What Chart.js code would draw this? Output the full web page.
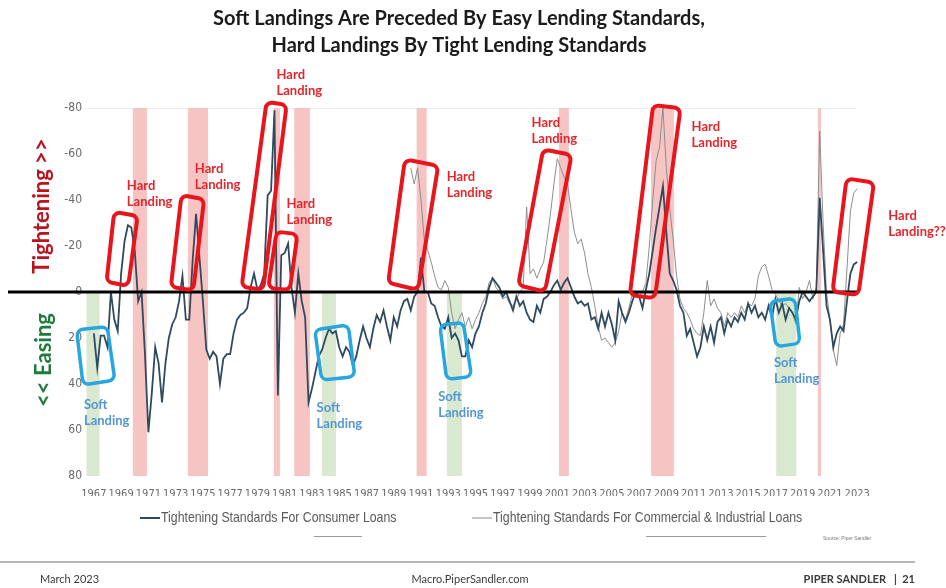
<!DOCTYPE html>
<html>
<head>
<meta charset="utf-8">
<script src="https://cdn.jsdelivr.net/npm/chart.js@4.4.0/dist/chart.umd.min.js"></script>
<style>
  html, body { margin: 0; padding: 0; background: #fff; }
  #wrap { width: 946px; height: 588px; position: relative; }
</style>
</head>
<body>
<div id="wrap"><canvas id="lendingChart" width="946" height="588"></canvas></div>
<script>
// Net % of banks tightening standards, quarterly (negative = tightening, axis is flipped)
const consumerStart = 1967;      // 1967 Q1
const consumerLoans = [
  18, 33, 19, 19,     24, 0, 12, 17,      -8, -22, -29, -28,   -18, 4, 0, 27,
  61, 44, 24, 31,     48, 31, 20, 14,     11, 4, -7, 12,       12, -14, -34, -15,
  4, 25, 29, 26,      28, 40, 29, 27,     27, 18, 12, 10,      9, 7, -2, -8,
  -1, -3, -8, -42,    -44, -79, 45, -16,  -17, -21, -2, 9,     -8, 4, 11, 48,
  42, 35, 28, 25,     20, 16, 18, 17,     24, 28, 24, 26,      32, 28, 21, 15,
  20, 24, 16, 10,     13, 8, 15, 21,      11, 15, 8, 4,        3, 8, 2, 0,
  -15, 0, 0, 5,       6, 11, 15, 16,      11, 20, 18, 21,      28, 28, 21, 24,
  18, 15, 9, 5,       -2, -6, -4, -2,     2, 0, 4, 8,          2, 6, 4, 9,
  12, 13, 6, 9,       3, 2, 0, -3,        -5, -1, -4, -6,      -2, 2, 5, 4,
  6, 5, 12, 11,       16, 9, 15, 9,       14, 21, 4, 9,        13, 9, 4, 0,
  2, 7, -1, -8,       -18, -28, -37, -46, -26, -8, -5, -1,     6, 9, 19, 16,
  22, 28, 24, 15,     21, 15, 22, 13,     11, 18, 12, 15,      11, 13, 9, 12,
  5, 9, 6, 11,        9, 12, 6, 11,       3, 9, 5, 12,         7, 9, 12, 4,
  0, 2, 4, 2,         0, -41, -18, 6,     12, 24, 18, 15,      17, 4, -8, -12,
  -13
];

const ciStart = 1990.25;         // 1990 Q2
const ciLoans = [
  -54, -47, -54,
  -40, -22, -18, -13,  -7, -2, -1, -5,     -2, 9, 16, 12,       9, 15, 11, 16,
  12, 9, 5, 2,         -4, -6, -2, 0,      3, 2, 5, 6,          3, 0, -2, -37,
  -8, -10, -6, -10,    -13, -23, -34, -47, -58, -54, -50, -47,  -36, -26, -21, -23,
  -17, -8, -2, 6,      15, 21, 20, 22,     24, 22, 17, 9,       12, 7, 1, 0,
  2, 0, -4, -20,       -40, -57, -63, -80, -54, -36, -23, -7,   3, 7, 9, 12,
  16, 18, 19, 9,       -5, 6, 3, 7,        9, 15, 9, 11,        9, 11, 6, 9,
  5, 6, 3, -7,         -11, -12, -7, -1,   1, 4, 6, 5,          7, 9, 14, -2,
  3, 0, -5, 3,         -2, -70, -30, 0,    12, 25, 32, 18,      14, -10, -35, -43,
  -45
];

const yearTicks = [1967, 1969, 1971, 1973, 1975, 1977, 1979, 1981, 1983, 1985, 1987, 1989,
  1991, 1993, 1995, 1997, 1999, 2001, 2003, 2005, 2007, 2009, 2011, 2013, 2015, 2017,
  2019, 2021, 2023];
const valueTicks = [-80, -60, -40, -20, 0, 20, 40, 60, 80];

// recessions (red) and soft-landing windows (green), in decimal years
const recessions = [[1969.86, 1970.89], [1973.9, 1975.38], [1980.2, 1980.65], [1981.7, 1982.85],
  [1990.68, 1991.42], [2001.12, 2001.85], [2007.88, 2009.55], [2020.12, 2020.34]];
const softPeriods = [[1966.46, 1967.42], [1983.73, 1984.76], [1992.9, 1994.0], [2017.06, 2018.53]];

// callout boxes: four corners as [year, value]
const hardBoxes = [
  [[1968.49, -34.9], [1970.21, -33.0], [1969.52, -2.6], [1967.93, -4.5]],
  [[1973.43, -42.2], [1975.09, -40.3], [1974.29, -0.6], [1972.65, -2.3]],
  [[1979.67, -82.7], [1981.14, -81.3], [1979.42, -0.9], [1977.84, -2.3]],
  [[1980.40, -26.2], [1981.94, -25.2], [1981.38, -0.9], [1979.79, -1.6]],
  [[1989.82, -57.7], [1992.26, -54.8], [1990.79, -0.9], [1988.59, -4.0]],
  [[1999.96, -62.0], [2002.05, -59.6], [2000.09, -0.1], [1998.13, -3.0]],
  [[2008.03, -81.3], [2010.04, -79.9], [2008.16, 2.7], [2006.32, 1.3]],
  [[2022.22, -49.4], [2024.23, -47.5], [2023.08, 1.3], [2021.19, -0.1]]
];
const softBoxes = [
  [[1965.73, 16.5], [1967.98, 15.1], [1968.54, 38.3], [1966.21, 40.4]],
  [[1983.21, 16.5], [1985.66, 14.3], [1986.15, 36.8], [1983.71, 38.3]],
  [[1992.38, 14.3], [1994.10, 13.3], [1994.71, 36.8], [1992.88, 38.0]],
  [[2016.60, 4.2], [2018.43, 2.7], [2018.80, 22.3], [2017.04, 23.8]]
];

// callout text: [year, value, lines]
const hardNotes = [
  [1969.42, -46.1, ['Hard', 'Landing']],
  [1974.41, -53.5, ['Hard', 'Landing']],
  [1980.40, -94.3, ['Hard', 'Landing']],
  [1981.14, -38.3, ['Hard', 'Landing']],
  [1992.88, -50.0, ['Hard', 'Landing']],
  [1999.11, -73.5, ['Hard', 'Landing']],
  [2010.85, -71.7, ['Hard', 'Landing']],
  [2025.28, -33.0, ['Hard', 'Landing??']]
];
const softNotes = [
  [1966.27, 49.1, ['Soft', 'Landing']],
  [1983.34, 50.4, ['Soft', 'Landing']],
  [1992.26, 45.7, ['Soft', 'Landing']],
  [2016.89, 30.9, ['Soft', 'Landing']]
];

const NARROW = "'Liberation Sans Narrow', 'Arial Narrow', 'DejaVu Sans Condensed', sans-serif";
const BODY = "Lato, 'Open Sans', sans-serif";

function roundedPoly(ctx, pts, r) {
  const n = pts.length;
  ctx.beginPath();
  ctx.moveTo((pts[n - 1].x + pts[0].x) / 2, (pts[n - 1].y + pts[0].y) / 2);
  for (let i = 0; i < n; i++) {
    const p = pts[i], q = pts[(i + 1) % n];
    ctx.arcTo(p.x, p.y, q.x, q.y, r);
  }
  ctx.closePath();
}

// Arial-style text squeezed sideways, like Arial Narrow
function narrowText(ctx, text, x, y) {
  ctx.save();
  ctx.translate(x, y);
  ctx.scale(0.82, 1);
  ctx.fillText(text, 0, 0);
  ctx.restore();
}

const overlay = {
  id: 'overlay',
  beforeDatasetsDraw(chart) {
    const { ctx, chartArea: a, scales: { x, y } } = chart;
    ctx.save();
    // faint top rule
    ctx.strokeStyle = '#ececec';
    ctx.lineWidth = 1;
    ctx.beginPath();
    ctx.moveTo(a.left, a.top + 0.5);
    ctx.lineTo(x.getPixelForValue(2022.9), a.top + 0.5);
    ctx.stroke();

    ctx.fillStyle = '#f7c4c4';
    recessions.forEach(([s, e]) => {
      const x0 = x.getPixelForValue(s), x1 = x.getPixelForValue(e);
      ctx.fillRect(x0, y.getPixelForValue(-80), x1 - x0, y.getPixelForValue(80) - y.getPixelForValue(-80));
    });
    ctx.fillStyle = '#d8e9d0';
    softPeriods.forEach(([s, e]) => {
      const x0 = x.getPixelForValue(s), x1 = x.getPixelForValue(e);
      ctx.fillRect(x0, y.getPixelForValue(0), x1 - x0, y.getPixelForValue(80) - y.getPixelForValue(0));
    });
    ctx.restore();
  },
  afterDatasetsDraw(chart) {
    const { ctx, scales: { x, y } } = chart;
    const toPx = ([yr, v]) => ({ x: x.getPixelForValue(yr), y: y.getPixelForValue(v) });
    ctx.save();

    // zero line
    ctx.strokeStyle = '#000';
    ctx.lineWidth = 3;
    ctx.beginPath();
    ctx.moveTo(8, y.getPixelForValue(0));
    ctx.lineTo(x.getPixelForValue(2023), y.getPixelForValue(0));
    ctx.stroke();

    ctx.lineJoin = 'round';
    ctx.strokeStyle = '#e8161c';
    ctx.lineWidth = 4;
    hardBoxes.forEach(b => { roundedPoly(ctx, b.map(toPx), 6); ctx.stroke(); });
    ctx.strokeStyle = '#27a6e0';
    ctx.lineWidth = 3.5;
    softBoxes.forEach(b => { roundedPoly(ctx, b.map(toPx), 6); ctx.stroke(); });

    ctx.textAlign = 'left';
    ctx.textBaseline = 'middle';
    ctx.font = `bold 13px ${BODY}`;
    ctx.fillStyle = '#e3262b';
    hardNotes.forEach(([yr, v, lines]) => {
      const p = toPx([yr, v]);
      lines.forEach((t, i) => ctx.fillText(t, p.x, p.y + i * 16));
    });
    ctx.fillStyle = '#5496d3';
    softNotes.forEach(([yr, v, lines]) => {
      const p = toPx([yr, v]);
      lines.forEach((t, i) => ctx.fillText(t, p.x, p.y + i * 16));
    });
    ctx.restore();
  },
  afterDraw(chart) {
    const { ctx } = chart;
    ctx.save();

    // title
    ctx.fillStyle = '#1b1b1b';
    ctx.textAlign = 'center';
    ctx.textBaseline = 'middle';
    ctx.font = `bold 20px ${BODY}`;
    ctx.fillText('Soft Landings Are Preceded By Easy Lending Standards,', 459, 19);
    ctx.fillText('Hard Landings By Tight Lending Standards', 459, 46);

    // side labels
    ctx.font = `bold 22px ${BODY}`;
    ctx.textBaseline = 'alphabetic';
    ctx.save();
    ctx.translate(49, 206);
    ctx.rotate(-Math.PI / 2);
    ctx.fillStyle = '#b8141d';
    ctx.fillText('Tightening >>', 0, 0);
    ctx.restore();
    ctx.save();
    ctx.translate(51, 360);
    ctx.rotate(-Math.PI / 2);
    ctx.fillStyle = '#1f7a3c';
    ctx.fillText('<< Easing', 0, 0);
    ctx.restore();

    // legend
    ctx.textAlign = 'left';
    ctx.textBaseline = 'middle';
    ctx.font = "15px 'Liberation Sans', Arial, sans-serif";
    ctx.fillStyle = '#595959';
    ctx.strokeStyle = '#2e4a5e';
    ctx.lineWidth = 2;
    ctx.beginPath(); ctx.moveTo(140, 518); ctx.lineTo(160, 518); ctx.stroke();
    narrowText(ctx, 'Tightening Standards For Consumer Loans', 161, 518);
    ctx.strokeStyle = '#8e8e8e';
    ctx.lineWidth = 1;
    ctx.beginPath(); ctx.moveTo(472, 518); ctx.lineTo(492, 518); ctx.stroke();
    narrowText(ctx, 'Tightening Standards For Commercial & Industrial Loans', 493, 518);
    ctx.strokeStyle = '#9a9a9a';
    ctx.beginPath(); ctx.moveTo(314, 536.5); ctx.lineTo(362, 536.5); ctx.stroke();
    ctx.beginPath(); ctx.moveTo(646, 536.5); ctx.lineTo(766, 536.5); ctx.stroke();

    ctx.font = "6px 'Liberation Sans', Arial, sans-serif";
    ctx.fillStyle = '#777';
    narrowText(ctx, 'Source: Piper Sandler', 823, 538);

    // footer
    ctx.strokeStyle = '#a0a0a0';
    ctx.lineWidth = 1.5;
    ctx.beginPath(); ctx.moveTo(0, 562); ctx.lineTo(915, 562); ctx.stroke();
    ctx.fillStyle = '#3a3a3a';
    ctx.font = `11px ${BODY}`;
    ctx.textAlign = 'left';
    ctx.fillText('March 2023', 40, 579);
    ctx.textAlign = 'center';
    ctx.fillText('Macro.PiperSandler.com', 470, 579);
    ctx.textAlign = 'right';
    ctx.font = `bold 11px ${BODY}`;
    ctx.fillText('PIPER SANDLER   |  21', 915, 579);
    ctx.restore();
  }
};

new Chart(document.getElementById('lendingChart'), {
  type: 'line',
  data: {
    datasets: [
      {
        label: 'Tightening Standards For Consumer Loans',
        data: consumerLoans.map((v, i) => ({ x: consumerStart + i / 4, y: v })),
        borderColor: '#2e4a5e',
        borderWidth: 1.8,
        pointRadius: 0,
        tension: 0,
        clip: 4
      },
      {
        label: 'Tightening Standards For Commercial & Industrial Loans',
        data: ciLoans.map((v, i) => ({ x: ciStart + i / 4, y: v })),
        borderColor: '#8e8e8e',
        borderWidth: 1,
        pointRadius: 0,
        tension: 0,
        clip: 4
      }
    ]
  },
  options: {
    responsive: false,
    animation: false,
    layout: { padding: { left: 25, right: 82, top: 108, bottom: 92 } },
    plugins: {
      legend: { display: false },
      tooltip: { enabled: false }
    },
    scales: {
      x: {
        type: 'linear',
        min: 1966.35,
        max: 2023.5,
        afterBuildTicks: s => { s.ticks = yearTicks.map(v => ({ value: v })); },
        afterFit: s => { s.height = 20; },
        ticks: {
          autoSkip: false,
          maxRotation: 0,
          padding: 4,
          color: '#6a6a6a',
          font: { family: NARROW, size: 11 },
          callback: v => String(v)
        },
        grid: { display: false },
        border: { display: false }
      },
      y: {
        reverse: true,
        min: -80,
        max: 80,
        afterBuildTicks: s => { s.ticks = valueTicks.map(v => ({ value: v })); },
        afterFit: s => { s.width = 60; },
        ticks: {
          padding: 3,
          color: '#6a6a6a',
          font: { family: NARROW, size: 12 }
        },
        grid: { display: false, drawTicks: false },
        border: { display: false }
      }
    }
  },
  plugins: [overlay]
});
</script>
</body>
</html>
